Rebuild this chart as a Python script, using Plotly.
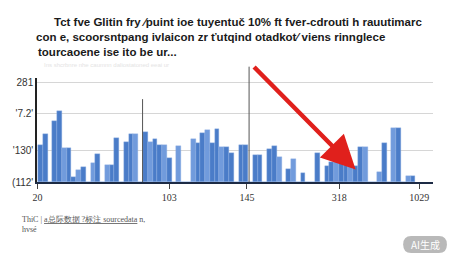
import plotly.graph_objects as go

# ---- data ----
bar_heights = [37, 48, 0, 61, 71, 34, 34, 5, 12, 15, 0, 19, 28, 0, 17, 17, 44, 0, 40, 48,
               48, 0, 50, 40, 43, 37, 37, 24, 0, 36, 0, 0, 43, 39, 49, 52, 39, 53, 35, 35,
               29, 0, 37, 37, 0, 27, 27, 0, 33, 36, 25, 0, 13, 23, 0, 9, 0, 0, 29, 0,
               16, 20, 26, 19, 18, 16, 16, 35, 35, 0, 0, 10, 39, 0, 54, 54, 0, 6, 6]
slots = list(range(len(bar_heights)))

y_tick_vals = [0, 32, 69, 100]
y_tick_text = ["(112'", "'130'", "'7.2'", "281"]
x_tick_vals = [-0.6, 27, 43.25, 62.6, 79.3]
x_tick_text = ["20", "103", "145", "318", "1029"]

marker_lines_x = [21.4, 43.7]
marker_lines_top = [0.797, 1.109]

arrow_head = (66.0, 12.5)

title_lines = [
    "Tct fve Glitin fry ⁄puint ioe tuyentuč 10% ft fver-cdrouti h rauutimarc",
    "con e, scoorsntpang ivlaicon zr ťutqind otadkot⁄ viens rinnglece",
    "tourcaoene ise ito be ur...",
]

# ---- styles ----
dark_blue = "#4a7cc8"
light_blue = "#719bdc"
colors = [dark_blue if i % 3 != 2 else light_blue for i in slots]

W, H = 450, 257
ML, MR, MT, MB = 35, 17, 78, 75
pw, ph = W - ML - MR, H - MT - MB


def px2x(p):
    return (p - ML) / pw


def py2y(p):
    return (H - MB - p) / ph


fig = go.Figure()
fig.add_trace(go.Bar(
    x=slots, y=bar_heights, width=1.0,
    marker=dict(color=colors, line=dict(width=0.4, color="#8fb0e4")),
    showlegend=False, hoverinfo="skip",
))

for xv, top in zip(marker_lines_x, marker_lines_top):
    fig.add_shape(type="line", xref="x", yref="paper", x0=xv, x1=xv, y0=0, y1=top,
                  line=dict(color="#555", width=1))

fig.add_annotation(
    x=arrow_head[0], y=arrow_head[1], xref="x", yref="y",
    ax=-103, ay=-104, showarrow=True, arrowhead=2, arrowsize=1.5,
    arrowwidth=4.5, arrowcolor="#e0201c", text="",
)

title_pos = [(50, 22), (32, 37), (34, 52)]
for (px, py), line in zip(title_pos, title_lines):
    fig.add_annotation(
        xref="paper", yref="paper", x=px2x(px), y=py2y(py),
        xanchor="left", yanchor="middle", showarrow=False, text="<b>" + line + "</b>",
        font=dict(family="Liberation Sans, Arial, sans-serif", size=11.5, color="#1a1a1a"),
    )

fig.add_annotation(
    xref="paper", yref="paper", x=px2x(40), y=py2y(65),
    xanchor="left", yanchor="middle", showarrow=False,
    text="Ins shcrbnre nhe caumnn daliostatoned eeai ur",
    font=dict(family="Liberation Sans, Arial, sans-serif", size=6, color="#e4e4e4"),
)

fig.add_annotation(
    xref="paper", yref="paper", x=px2x(18), y=py2y(224),
    xanchor="left", yanchor="middle", showarrow=False, align="left",
    text="ThiC | <u>a总际数据 ?标注 sourcedata</u> n,<br>hvsé",
    font=dict(family="Liberation Serif, serif", size=8, color="#555"),
)

# AI badge
bx0, bx1, by0, by1 = 403, 447, 236, 253
r = 8
path = (f"M {px2x(bx0 + r)} {py2y(by0)} L {px2x(bx1 - r)} {py2y(by0)} "
        f"Q {px2x(bx1)} {py2y(by0)} {px2x(bx1)} {py2y((by0 + by1) / 2)} "
        f"Q {px2x(bx1)} {py2y(by1)} {px2x(bx1 - r)} {py2y(by1)} "
        f"L {px2x(bx0 + r)} {py2y(by1)} "
        f"Q {px2x(bx0)} {py2y(by1)} {px2x(bx0)} {py2y((by0 + by1) / 2)} "
        f"Q {px2x(bx0)} {py2y(by0)} {px2x(bx0 + r)} {py2y(by0)} Z")
fig.add_shape(type="path", xref="paper", yref="paper", path=path, layer="below",
              fillcolor="#b9b9b9", line=dict(width=0))
fig.add_annotation(
    xref="paper", yref="paper", x=px2x((bx0 + bx1) / 2), y=py2y((by0 + by1) / 2),
    xanchor="center", yanchor="middle",
    showarrow=False, text="AI生成",
    font=dict(family="Noto Sans CJK SC, Noto Sans, sans-serif", size=10, color="#ffffff"),
)

fig.update_layout(
    width=W, height=H,
    margin=dict(l=ML, r=MR, t=MT, b=MB),
    paper_bgcolor="white", plot_bgcolor="white",
    bargap=0,
    xaxis=dict(range=[-0.7, 82.2], tickvals=x_tick_vals, ticktext=x_tick_text,
               showgrid=False, zeroline=False, showline=True, linecolor="#1d2b45",
               linewidth=2, ticks="outside", ticklen=5, tickcolor="#444",
               tickfont=dict(family="Liberation Serif, serif", size=10, color="#333")),
    yaxis=dict(range=[0, 104], tickvals=y_tick_vals, ticktext=y_tick_text,
               showgrid=True, gridcolor="#d6d6d6", gridwidth=1, zeroline=False,
               showline=True, linecolor="#222", linewidth=1.5, ticks="",
               tickfont=dict(family="Liberation Sans, Arial, sans-serif", size=10, color="#333")),
)

fig.write_html("out.html")
